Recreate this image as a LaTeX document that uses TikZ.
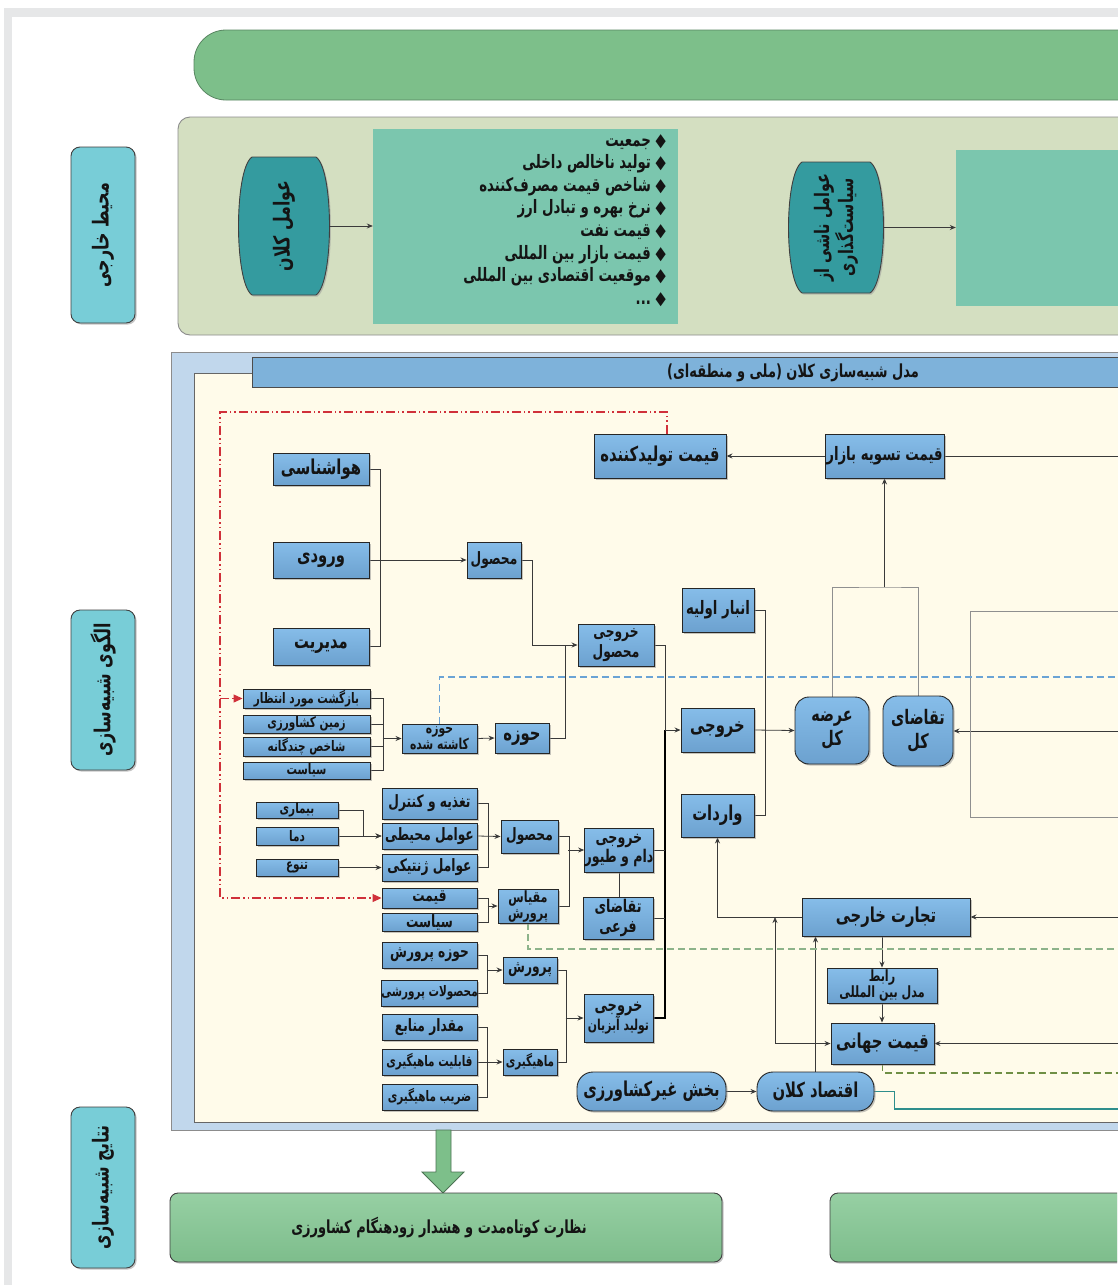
\documentclass[tikz,border=0pt]{standalone}
\usepackage{fontspec}
\TeXXeTstate=1
\newfontfamily\fa[Script=Arabic,FakeStretch=0.72]{DejaVu Sans}
\usetikzlibrary{arrows.meta,shadows,calc}
\pgfdeclarelayer{back}
\pgfdeclarelayer{lines}
\pgfsetlayers{back,lines,main}
\definecolor{boxtop}{HTML}{86BDE9}
\definecolor{boxbot}{HTML}{6CA1CF}
\definecolor{cyanlab}{HTML}{78CDD7}
\definecolor{tealbar}{HTML}{349B9F}
\definecolor{listteal}{HTML}{7BC6AE}
\definecolor{greenbar}{HTML}{7DBF8A}
\definecolor{olive}{HTML}{D4DFC1}
\definecolor{frameblue}{HTML}{C1D7EC}
\definecolor{cream}{HTML}{FFFBEA}
\definecolor{titleblue}{HTML}{7EB2DA}
\definecolor{redd}{HTML}{D0303A}
\definecolor{blued}{HTML}{6AA3D5}
\definecolor{greend}{HTML}{8DB38A}
\definecolor{olived}{HTML}{6F8F45}
\definecolor{tealline}{HTML}{2E8E8C}
\definecolor{bggray}{HTML}{E6E7E8}
\definecolor{linegray}{HTML}{8F8F8F}
\definecolor{conncol}{HTML}{3A3A3A}
\definecolor{greenbox}{HTML}{84C793}
\newcommand\rl[1]{\beginR #1\endR}
\newcommand\fsz[2]{\fa\bfseries\fontsize{#1}{#2}\selectfont}
\newcommand\bx[7][]{\node[#2,minimum width={(#5-#3)*1pt},minimum height={(#6-#4)*1pt},#1] (#7) at ({(#3+#5)/2},{(#4+#6)/2})}
\newcommand\barrel[4]{\filldraw[fill=tealbar,draw=black!75,line width=0.9pt,drop shadow={shadow xshift=1.5pt,shadow yshift=-1.5pt,fill=black!40}] ({#1+13},#2) -- ({#3-13},#2) .. controls ({#3+5},{#2+12}) and ({#3+5},{#4-12}) .. ({#3-13},#4) -- ({#1+13},#4) .. controls ({#1-5},{#4-12}) and ({#1-5},{#2+12}) .. ({#1+13},#2) -- cycle;}
\tikzset{
 box/.style={draw=black!85,line width=0.9pt,top color=boxtop,bottom color=boxbot,inner sep=0pt,align=center,text=black!92,
   drop shadow={shadow xshift=1.6pt,shadow yshift=-1.6pt,fill=black!45}},
 big/.style={box,font=\fsz{20.5}{22}},
 med/.style={box,font=\fsz{17}{18}},
 sm/.style={box,font=\fsz{14.5}{15}},
 two/.style={box,font=\fsz{17}{20}},
 inv/.style={inner sep=0pt},
 lab/.style={draw=black!75,line width=0.9pt,fill=cyanlab,rounded corners=9pt,
   drop shadow={shadow xshift=1.6pt,shadow yshift=-1.6pt,fill=black!45}},
 labtxt/.style={rotate=90,font=\fsz{22}{24},text=black!92},
 gbx/.style={draw=black!75,line width=0.9pt,top color=greenbox!85!white,bottom color=greenbox!95!black,rounded corners=8pt,
   drop shadow={shadow xshift=1.6pt,shadow yshift=-1.6pt,fill=black!45}},
 cn/.style={draw=conncol,line width=0.8pt},
 arr/.style={cn,-{Stealth[length=6pt,width=5pt]}},
 gl/.style={draw=linegray,line width=0.9pt},
 rdash/.style={draw=redd,line width=1.1pt,dash pattern=on 9pt off 3pt on 1.5pt off 3pt on 1.5pt off 3pt,-{Triangle[length=9pt,width=8pt]}},
 bdash/.style={draw=blued,line width=1.2pt,dash pattern=on 7pt off 4pt},
 gdash/.style={draw=greend,line width=1.2pt,dash pattern=on 7pt off 4pt},
 odash/.style={draw=olived,line width=1.1pt,dash pattern=on 7pt off 4pt},
}
\begin{document}
\begin{tikzpicture}[x=1pt,y=-1pt]
\useasboundingbox (0,0) rectangle (1117,1285);
\clip (0,0) rectangle (1117,1285);
% ---------- background containers ----------
\begin{pgfonlayer}{back}
\fill[white] (0,0) rectangle (1117,1285);
\fill[bggray] (4,8) rectangle (1140,1300);
\fill[white] (12,17) rectangle (1140,1300);
\filldraw[fill=greenbar,draw=greenbar!70!black,line width=0.8pt,rounded corners=32pt] (194,30) rectangle (1160,100);
\filldraw[fill=olive,draw=black!45,line width=0.9pt,rounded corners=12pt] (178,117) rectangle (1160,335);
\fill[listteal] (373,129) rectangle (678,324);
\fill[listteal] (956,150) rectangle (1160,306);
\filldraw[fill=frameblue,draw=black!45,line width=1pt] (171,352) rectangle (1160,1130);
\filldraw[fill=cream,draw=black!60,line width=1pt] (194,373) rectangle (1160,1122);
\filldraw[fill=titleblue,draw=black!70,line width=1pt] (252,357) rectangle (1160,387);
\barrel{239}{157}{329}{295}
\barrel{789}{162}{883}{293}
\filldraw[fill=greenbar,draw=greenbar!60!black,line width=0.8pt] (436,1130) -- (451,1130) -- (451,1172) -- (464,1172) -- (443,1193) -- (422,1172) -- (436,1172) -- cycle;
\end{pgfonlayer}
% ---------- side labels ----------
\bx{lab}{71}{147}{135}{323}{labA} {};
\node[labtxt] (labAt) at (labA) {\rl{محیط خارجی}};
\bx{lab}{71}{610}{135}{770}{labB} {};
\node[labtxt] (labBt) at (labB) {\rl{الگوی شبیه^^^^200cسازی}};
\bx{lab}{71}{1107}{135}{1268}{labC} {};
\node[labtxt] (labCt) at (labC) {\rl{نتایج شبیه^^^^200cسازی}};
% ---------- external environment ----------
\bx{inv}{239}{157}{329}{295}{kalanB} {};
\node[labtxt,font=\fsz{22}{24}] (kalanT) at (kalanB) {\rl{عوامل کلان}};
\bx{inv}{373}{129}{678}{324}{lst} {};
\node[anchor=north east,align=right,inner sep=0pt,font=\fsz{18.5}{22.6},text=black!92] (lsttxt) at (666,134)
 {\rl{◆ جمعیت}\\\rl{◆ تولید ناخالص داخلی}\\\rl{◆ شاخص قیمت مصرف^^^^200cکننده}\\\rl{◆ نرخ بهره و تبادل ارز}\\\rl{◆ قیمت نفت}\\\rl{◆ قیمت بازار بین المللی}\\\rl{◆ موقعیت اقتصادی بین المللی}\\\rl{◆ ...}};
\bx{inv}{789}{162}{883}{293}{siasatB} {};
\node[labtxt,align=center,font=\fsz{20}{21}] (siasatT) at (siasatB) {\rl{عوامل ناشی از}\\\rl{سیاست^^^^200cگذاری}};
\bx{inv}{956}{150}{1160}{306}{tealR} {};
% ---------- title ----------
\node[font=\fsz{18}{20},text=black!92] (titletxt) at (793,373) {\rl{مدل شبیه^^^^200cسازی کلان (ملی و منطقه^^^^200cای)}};
% ---------- boxes ----------
\bx{big}{594}{434}{726}{478}{tolid} {\rl{قیمت تولیدکننده}};
\bx[font=\fsz{18.5}{20}]{box}{825}{434}{944}{478}{tasvie} {\rl{قیمت تسویه بازار}};
\bx{big}{273}{453}{369}{485}{hava} {\rl{هواشناسی}};
\bx{big}{273}{542}{369}{578}{voroodi} {\rl{ورودی}};
\bx{big}{273}{628}{369}{665}{modir} {\rl{مدیریت}};
\bx{med}{467}{542}{521}{578}{mahsul1} {\rl{محصول}};
\bx{two}{578}{624}{654}{666}{khm} {\rl{خروجی}\\\rl{محصول}};
\bx[font=\fsz{18.5}{20}]{box}{682}{588}{754}{632}{anbar} {\rl{انبار اولیه}};
\bx{big}{681}{708}{754}{752}{khoruji} {\rl{خروجی}};
\bx{big}{681}{794}{754}{837}{varedat} {\rl{واردات}};
\bx[rounded corners=14pt,font=\fsz{20}{24}]{box}{795}{697}{869}{764}{arzeh} {\rl{عرضه}\\\rl{کل}};
\bx[rounded corners=14pt,font=\fsz{20}{24}]{box}{883}{696}{953}{766}{taghaza} {\rl{تقاضای}\\\rl{کل}};
\bx{sm}{243}{689}{370}{708}{bazgasht} {\rl{بازگشت مورد انتظار}};
\bx{sm}{243}{715}{370}{733}{zamin} {\rl{زمین کشاورزی}};
\bx{sm}{243}{737}{370}{756}{shakhes} {\rl{شاخص چندگانه}};
\bx{sm}{243}{762}{370}{779}{siasat1} {\rl{سیاست}};
\bx[font=\fsz{15}{13.5}]{box}{402}{724}{477}{753}{hk} {\rl{حوزه}\\\rl{کاشته شده}};
\bx{big}{495}{723}{549}{753}{hoze} {\rl{حوزه}};
\bx{sm}{256}{802}{338}{818}{bimari} {\rl{بیماری}};
\bx{sm}{256}{827}{338}{845}{dama} {\rl{دما}};
\bx{sm}{256}{859}{338}{876}{tanavo} {\rl{تنوع}};
\bx{med}{382}{788}{477}{819}{taghzie} {\rl{تغذیه و کنترل}};
\bx{med}{382}{823}{477}{849}{mohiti} {\rl{عوامل محیطی}};
\bx{med}{382}{854}{477}{881}{zhenetiki} {\rl{عوامل ژنتیکی}};
\bx{med}{501}{820}{558}{853}{mahsul2} {\rl{محصول}};
\bx{med}{382}{888}{477}{908}{gheymat} {\rl{قیمت}};
\bx{med}{382}{913}{477}{931}{siasat2} {\rl{سیاست}};
\bx[font=\fsz{15.5}{16}]{box}{498}{889}{558}{923}{miqyas} {\rl{مقیاس}\\\rl{پرورش}};
\bx[font=\fsz{17.5}{19}]{box}{585}{828}{653}{872}{dam} {\rl{خروجی}\\\rl{دام و طیور}};
\bx[font=\fsz{17.5}{20}]{box}{583}{897}{653}{939}{farei} {\rl{تقاضای}\\\rl{فرعی}};
\bx{med}{382}{942}{477}{968}{hozeP} {\rl{حوزه پرورش}};
\bx{sm}{382}{980}{477}{1006}{mahsulatP} {\rl{محصولات پرورشی}};
\bx{med}{382}{1014}{477}{1040}{meghdar} {\rl{مقدار منابع}};
\bx{sm}{382}{1049}{477}{1075}{ghabeliat} {\rl{قابلیت ماهیگیری}};
\bx{sm}{382}{1084}{477}{1110}{zarib} {\rl{ضریب ماهیگیری}};
\bx{med}{503}{957}{557}{983}{parvaresh} {\rl{پرورش}};
\bx{sm}{503}{1049}{557}{1075}{mahigiri} {\rl{ماهیگیری}};
\bx[font=\fsz{15}{18}]{box}{584}{994}{653}{1042}{abz} {{\fsz{18}{19}\rl{خروجی}}\\\rl{تولید آبزیان}};
\bx{big}{802}{898}{970}{936}{tejarat} {\rl{تجارت خارجی}};
\bx[font=\fsz{15.5}{16.5}]{box}{827}{968}{937}{1003}{rabet} {\rl{رابط}\\\rl{مدل بین المللی}};
\bx{big}{831}{1023}{934}{1064}{jahani} {\rl{قیمت جهانی}};
\bx[rounded corners=16pt]{big}{577}{1072}{726}{1111}{gheirK} {\rl{بخش غیرکشاورزی}};
\bx[rounded corners=16pt]{big}{757}{1072}{874}{1111}{eghtesad} {\rl{اقتصاد کلان}};
% ---------- results ----------
\bx{gbx}{170}{1193}{722}{1262}{gbox1} {};
\node[font=\fsz{18}{20},text=black!92] (gbox1t) at (439,1227) {\rl{نظارت کوتاه^^^^200cمدت و هشدار زودهنگام کشاورزی}};
\bx{gbx}{830}{1193}{1160}{1262}{gbox2} {};
% ---------- coordinates ----------
\coordinate (RE) at (1125,0);
\coordinate (busA) at (665,0);
\coordinate (gtop) at (884.5,587);
\coordinate (or1) at (970,611);
\coordinate (or2) at (970,817);
\coordinate (c775) at (775,0);
\coordinate (tealEnd) at (1125,1109);
\coordinate (bd) at (1125,677);
\coordinate (gd) at (1125,949);
\coordinate (od) at (1125,1073);
\coordinate (rTop) at (220,412);
% ---------- connectors ----------
\begin{pgfonlayer}{lines}
\draw[arr] (kalanB.east) -- (kalanB.east -| lst.west);
\draw[arr] (siasatB.east) -- (siasatB.east -| tealR.west);
\draw[arr] (tasvie.west) -- (tolid.east);
\draw[cn] (tasvie.east) -- (tasvie.east -| RE);
\draw[cn] (hava.east) -- ++(11,0) |- (modir.east);
\draw[arr] (voroodi.east) -- (mahsul1.west);
\draw[arr] (mahsul1.east) -- ++(11,0) |- (khm.west);
\draw[cn] (hoze.east) -| ($(khm.west)+(-12,0)$);
\draw[cn] (bazgasht.east) -- ++(13,0) |- (siasat1.east);
\draw[cn] (zamin.east) -- ++(13,0);
\draw[cn] (shakhes.east) -- ++(13,0);
\draw[arr] ($(hk.west)+(-19,0)$) -- (hk.west);
\draw[arr] (hk.east) -- (hoze.west);
\draw[cn] (khm.east) -| (busA |- khoruji.west);
\draw[cn,draw=black,line width=1.2pt] (busA |- khoruji.west) -- (busA |- abz.east) -- (abz.east);
\draw[arr] (busA |- khoruji.west) -- (khoruji.west);
\draw[cn] (dam.east) -- (busA |- dam.east);
\draw[cn] (farei.east) -- (busA |- farei.east);
\draw[arr] (khoruji.east) -- (arzeh.west);
\draw[cn] (anbar.east) -- ++(11,0) |- (varedat.east);
\draw[gl] (arzeh.north) |- (gtop) -| (taghaza.north);
\draw[arr] (gtop) -- (tasvie.south);
\draw[arr] (taghaza.east -| RE) -- (taghaza.east);
\draw[gl] (or1 -| RE) -- (or1) -- (or2) -- (or2 -| RE);
\draw[arr] (tejarat.east -| RE) -- (tejarat.east);
\draw[arr] (tejarat.west) -| (varedat.south);
\draw[arr] (rabet.north |- tejarat.south) -- (rabet.north);
\draw[arr] (rabet.south) -- (rabet.south |- jahani.north);
\draw[arr] (jahani.east -| RE) -- (jahani.east);
\draw[arr] (c775 |- jahani.west) -- (jahani.west);
\draw[arr] (c775 |- jahani.west) -- (c775 |- tejarat.west);
\draw[arr] (eghtesad.north) -- (eghtesad.north |- tejarat.south);
\draw[arr] (gheirK.east) -- (eghtesad.west);
\draw[draw=tealline,line width=1.1pt] (eghtesad.east) -- ++(20,0) |- (tealEnd);
\draw[bdash] (hk.north) |- (bd);
\draw[gdash] (miqyas.south) |- (gd);
\draw[odash] (jahani.south) |- (od);
\draw[rdash] ($(tolid.north)+(7,0)$) |- (rTop) |- (gheymat.west);
\draw[rdash] (rTop |- bazgasht.west) -- (bazgasht.west);
\draw[arr] (bimari.east) -- ++(25,0) |- (mohiti.west);
\draw[arr] (dama.east) -- (mohiti.west);
\draw[arr] (tanavo.east) -- (zhenetiki.west);
\draw[cn] (taghzie.east) -- ++(11,0) |- (zhenetiki.east);
\draw[arr] (mohiti.east) -- (mahsul2.west);
\draw[cn] (mahsul2.east) -- ++(11,0) |- (miqyas.east);
\draw[arr] ($(dam.west)+(-16,0)$) -- (dam.west);
\draw[cn] (gheymat.east) -- ++(11,0) |- (siasat2.east);
\draw[arr] ($(miqyas.west)+(-10,0)$) -- (miqyas.west);
\draw[cn] (dam.south) -- (dam.south |- farei.north);
\draw[cn] (hozeP.east) -- ++(10,0) |- (mahsulatP.east);
\draw[arr] ($(parvaresh.west)+(-16,0)$) -- (parvaresh.west);
\draw[cn] (meghdar.east) -- ++(10,0) |- (zarib.east);
\draw[arr] (ghabeliat.east) -- (mahigiri.west);
\draw[cn] (parvaresh.east) -- ++(9,0) |- (mahigiri.east);
\draw[arr] ($(abz.west)+(-18,0)$) -- (abz.west);
\end{pgfonlayer}
\end{tikzpicture}
\end{document}
